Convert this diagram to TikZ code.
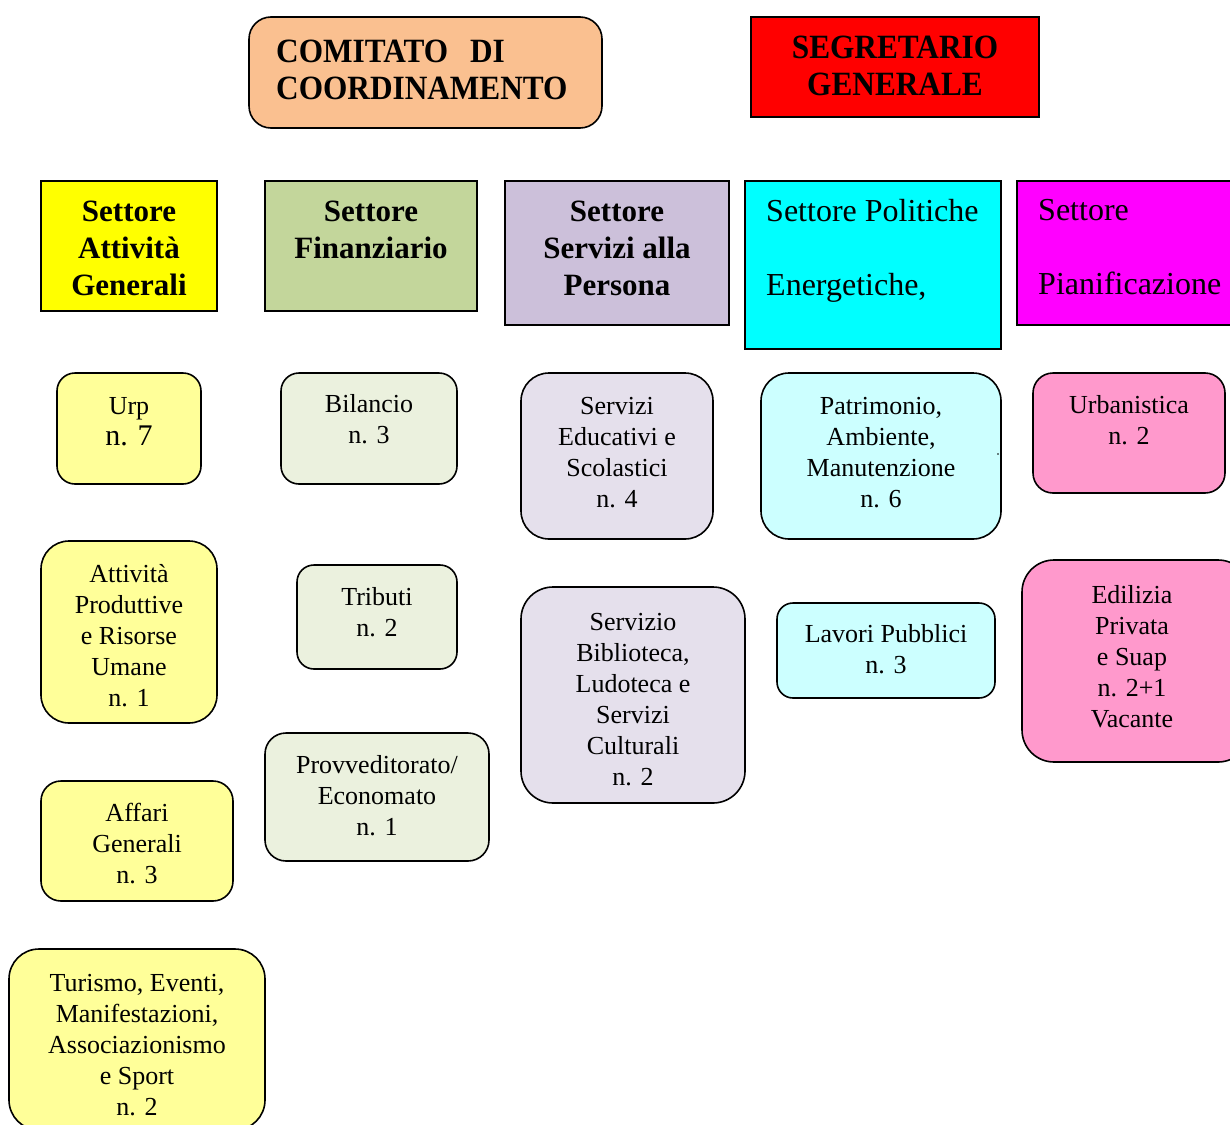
\documentclass[tikz,border=0pt]{standalone}
\usepackage{fontspec}
\setmainfont{Liberation Serif}
\usetikzlibrary{fit}
\definecolor{peach}{HTML}{FAC090}
\definecolor{hred}{HTML}{FF0000}
\definecolor{hyellow}{HTML}{FFFF00}
\definecolor{hgreen}{HTML}{C3D69B}
\definecolor{hlav}{HTML}{CCC0DA}
\definecolor{hcyan}{HTML}{00FFFF}
\definecolor{hmagenta}{HTML}{FF00FF}
\definecolor{syellow}{HTML}{FFFF99}
\definecolor{sgreen}{HTML}{EBF1DE}
\definecolor{slav}{HTML}{E5E0EC}
\definecolor{scyan}{HTML}{CCFFFF}
\definecolor{spink}{HTML}{FF99CC}
\begin{document}
\begin{tikzpicture}[x=1pt,y=-1pt,
  box/.style={draw=black, line width=1.6pt, inner sep=0pt},
  headbox/.style={box, rectangle},
  subbox/.style={box, rounded corners=#1},
  txt/.style={align=center, inner sep=0pt, font=\fontsize{26}{31}\selectfont},
  htxt/.style={align=center, inner sep=0pt, font=\fontsize{31}{37}\selectfont\bfseries},
  ltxt/.style={align=left, inner sep=0pt, anchor=west, font=\fontsize{32}{37}\selectfont},
  toptxt/.style={inner sep=0pt, xscale=0.92, transform shape, font=\fontsize{34}{37}\selectfont\bfseries}
]
\clip (0,0) rectangle (1230,1124);
\fill[white] (0,0) rectangle (1230,1124);

% top level
\node[subbox=22, fill=peach, fit={(249,17) (602,128)}] (comitato) {};
\node[toptxt, align=left, anchor=west] (comitatoT) at (276,69.5) {COMITATO\hspace{0.45em} DI\\COORDINAMENTO};
\node[headbox, fill=hred, fit={(751,17) (1039,117)}] (segretario) {};
\node[toptxt, align=center] (segretarioT) at (895,65.5) {SEGRETARIO\\GENERALE};

% sector headers
\node[headbox, fill=hyellow, fit={(41,181) (217,311)}] (sag) {};
\node[htxt] (sagT) at (129,248) {Settore\\Attività\\Generali};
\node[headbox, fill=hgreen, fit={(265,181) (477,311)}] (sfin) {};
\node[htxt] (sfinT) at (371,230) {Settore\\Finanziario};
\node[headbox, fill=hlav, fit={(505,181) (729,325)}] (ssp) {};
\node[htxt] (sspT) at (617,248) {Settore\\Servizi alla\\Persona};
\node[headbox, fill=hcyan, fit={(745,181) (1001,349)}] (spe) {};
\node[ltxt] (speT) at (766,251) {Settore Politiche\\[37pt]Energetiche,};
\node[headbox, fill=hmagenta, fit={(1017,181) (1240,325)}] (spi) {};
\node[ltxt] (spiT) at (1038,247) {Settore\\[37pt]Pianificazione};

% Attivita Generali offices
\node[subbox=18, fill=syellow, fit={(57,373) (201,484)}] (urp) {};
\node[txt] (urpT) at (129,421.5) {Urp\\{\fontsize{30}{35}\selectfont n. 7}};
\node[subbox=28, fill=syellow, fit={(41,541) (217,723)}] (apr) {};
\node[txt] (aprT) at (129,635.5) {Attività\\Produttive\\e Risorse\\Umane\\n. 1};
\node[subbox=20, fill=syellow, fit={(41,781) (233,901)}] (aff) {};
\node[txt] (affT) at (137,843.5) {Affari\\Generali\\n. 3};
\node[subbox=30, fill=syellow, fit={(9,949) (265,1130)}] (tur) {};
\node[txt] (turT) at (137,1045) {Turismo, Eventi,\\Manifestazioni,\\Associazionismo\\e Sport\\n. 2};

% Finanziario offices
\node[subbox=18, fill=sgreen, fit={(281,373) (457,484)}] (bil) {};
\node[txt] (bilT) at (369,419.5) {Bilancio\\n. 3};
\node[subbox=17, fill=sgreen, fit={(297,565) (457,669)}] (tri) {};
\node[txt] (triT) at (377,612) {Tributi\\n. 2};
\node[subbox=21, fill=sgreen, fit={(265,733) (489,861)}] (pro) {};
\node[txt] (proT) at (377,796) {Provveditorato/\\Economato\\n. 1};

% Servizi alla Persona offices
\node[subbox=28, fill=slav, fit={(521,373) (713,539)}] (sed) {};
\node[txt] (sedT) at (617,453) {Servizi\\Educativi e\\Scolastici\\n. 4};
\node[subbox=32, fill=slav, fit={(521,587) (745,803)}] (bib) {};
\node[txt] (bibT) at (633,700) {Servizio\\Biblioteca,\\Ludoteca e\\Servizi\\Culturali\\n. 2};

% Politiche Energetiche offices
\node[subbox=28, fill=scyan, fit={(761,373) (1001,539)}] (pat) {};
\node[txt] (patT) at (881,453) {Patrimonio,\\Ambiente,\\Manutenzione\\n. 6};
\fill (998,454) circle (0.9);
\node[subbox=16, fill=scyan, fit={(777,603) (995,698)}] (lav) {};
\node[txt] (lavT) at (886,649) {Lavori Pubblici\\n. 3};

% Pianificazione offices
\node[subbox=20, fill=spink, fit={(1033,373) (1225,493)}] (urb) {};
\node[txt] (urbT) at (1129,420.5) {Urbanistica\\n. 2};
\node[subbox=32, fill=spink, fit={(1022,560) (1250,762)}] (edi) {};
\node[txt] (ediT) at (1132,657) {Edilizia\\Privata\\e Suap\\n. 2+1\\Vacante};
\end{tikzpicture}
\end{document}
